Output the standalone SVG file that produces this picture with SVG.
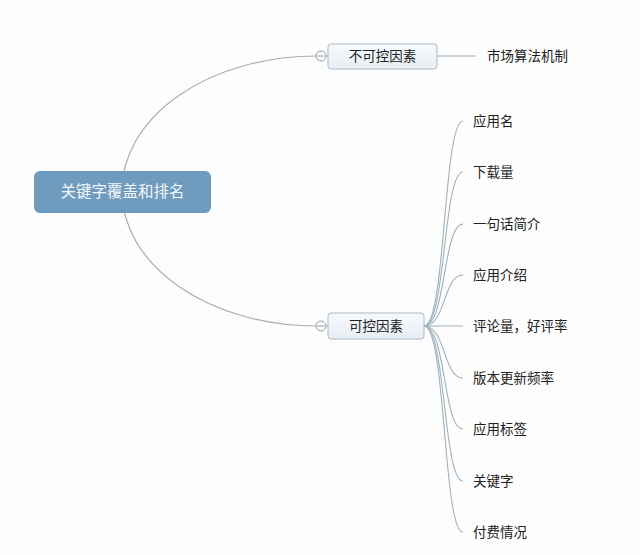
<svg xmlns="http://www.w3.org/2000/svg" width="640" height="555" viewBox="0 0 640 555">
<defs>
<linearGradient id="nodeGrad" x1="0" y1="0" x2="0" y2="1">
<stop offset="0" stop-color="#f7fafc"/>
<stop offset="1" stop-color="#e7eef4"/>
</linearGradient>
<style>
text{font-family:"Noto Sans CJK SC","Liberation Sans",sans-serif;}
.root-box{fill:#6f9bbf;}
.root-text{fill:#f4f7fa;font-size:15.5px;}
.box{fill:url(#nodeGrad);stroke:#a9b9c6;stroke-width:1;}
.label{fill:#222;font-size:13.5px;}
.main{fill:none;stroke:#a8adb2;stroke-width:1.2;}
.branch{fill:none;stroke:#9fb1bd;stroke-width:1.1;}
.toggle{fill:#fbfbfb;stroke:#9a9a9a;stroke-width:1;}
.minus{stroke:#9a9a9a;stroke-width:1;}
</style>
</defs>
<rect width="640" height="555" fill="#fdfdfd"/>
<g id="connectors">
<path class="main" d="M316,56 A194,135 0 0 0 122,191"/>
<path class="main" d="M122,191 A194,135 0 0 0 316,326"/>
<line class="main" x1="437" y1="56" x2="476" y2="56"/>
<path class="branch" d="M424,326 C446,326 443,121 463,121"/>
<path class="branch" d="M424,326 C446,326 443,172 463,172"/>
<path class="branch" d="M424,326 C446,326 443,224 463,224"/>
<path class="branch" d="M424,326 C446,326 443,275 463,275"/>
<line class="branch" x1="424" y1="326" x2="463" y2="326"/>
<path class="branch" d="M424,326 C446,326 443,378 463,378"/>
<path class="branch" d="M424,326 C446,326 443,429 463,429"/>
<path class="branch" d="M424,326 C446,326 443,481 463,481"/>
<path class="branch" d="M424,326 C446,326 443,532 463,532"/>
</g>
<g id="root">
<rect class="root-box" x="34" y="171" width="177" height="42" rx="6"/>
<text class="root-text" x="122.5" y="197" text-anchor="middle">关键字覆盖和排名</text>
</g>
<g id="uncontrollable">
<line class="main" x1="326" y1="56" x2="328" y2="56"/>
<circle class="toggle" cx="321" cy="56" r="5"/>
<line class="minus" x1="317.5" y1="56" x2="324.5" y2="56"/>
<rect class="box" x="328" y="44" width="109" height="25" rx="3"/>
<text class="label" x="382.5" y="61" text-anchor="middle">不可控因素</text>
</g>
<g id="market">
<text class="label" x="487" y="61">市场算法机制</text>
</g>
<g id="controllable">
<line class="main" x1="326" y1="326" x2="328" y2="326"/>
<circle class="toggle" cx="321" cy="326" r="5"/>
<line class="minus" x1="317.5" y1="326" x2="324.5" y2="326"/>
<rect class="box" x="328" y="313" width="96" height="26" rx="3"/>
<text class="label" x="376" y="331" text-anchor="middle">可控因素</text>
</g>
<g id="c1"><text class="label" x="473" y="126">应用名</text></g>
<g id="c2"><text class="label" x="473" y="177">下载量</text></g>
<g id="c3"><text class="label" x="473" y="229">一句话简介</text></g>
<g id="c4"><text class="label" x="473" y="280">应用介绍</text></g>
<g id="c5"><text class="label" x="473" y="331">评论量，好评率</text></g>
<g id="c6"><text class="label" x="473" y="383">版本更新频率</text></g>
<g id="c7"><text class="label" x="473" y="434">应用标签</text></g>
<g id="c8"><text class="label" x="473" y="486">关键字</text></g>
<g id="c9"><text class="label" x="473" y="537">付费情况</text></g>
</svg>
